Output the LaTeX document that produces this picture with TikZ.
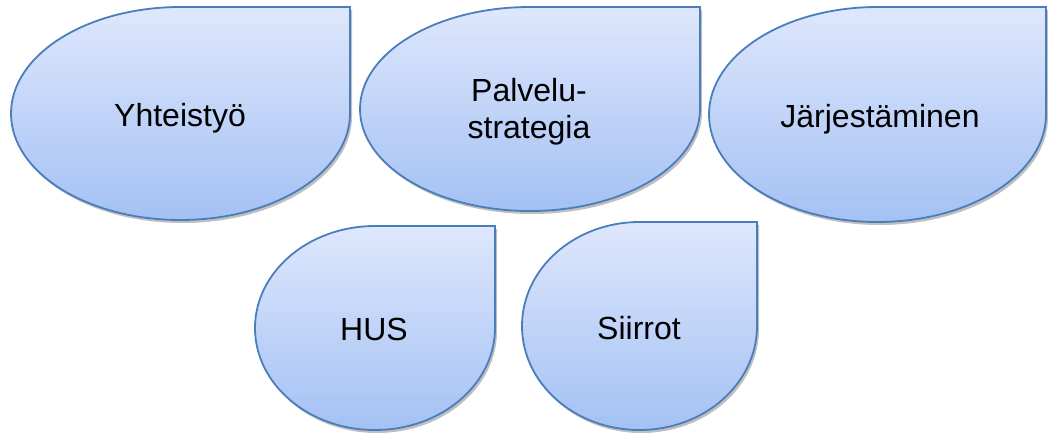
\documentclass[tikz,border=0pt]{standalone}
\usepackage{fontspec}
\setmainfont{Liberation Sans}
\definecolor{dropline}{HTML}{4A7EBB}
\definecolor{droptop}{HTML}{DEE7FC}
\definecolor{dropbot}{HTML}{A4C1F4}
\tikzset{
  dropshape/.style={draw=dropline, line width=1.8pt, top color=droptop, bottom color=dropbot},
  dropshadow/.style={fill=black, opacity=0.25, xshift=2pt, yshift=-3pt},
  droptext/.style={font=\fontsize{32}{37}\selectfont, text=black, inner sep=0pt, align=center}
}
% teardrop with sharp top-right corner: left, right, top, bottom (pixel coords, y down)
\newcommand{\teardrop}[4]{%
  \pgfmathsetmacro{\tdcx}{(#1+#2)/2}%
  \pgfmathsetmacro{\tdcy}{(#3+#4)/2}%
  \pgfmathsetmacro{\tdkx}{0.5523*(#2-#1)/2}%
  \pgfmathsetmacro{\tdky}{0.5523*(#4-#3)/2}%
  \pgfmathsetmacro{\tdxa}{\tdcx-\tdkx}%
  \pgfmathsetmacro{\tdxb}{\tdcx+\tdkx}%
  \pgfmathsetmacro{\tdya}{\tdcy-\tdky}%
  \pgfmathsetmacro{\tdyb}{\tdcy+\tdky}%
  \def\tdpath{(#2,#3) -- (\tdcx,#3) .. controls (\tdxa,#3) and (#1,\tdya) .. (#1,\tdcy)
    .. controls (#1,\tdyb) and (\tdxa,#4) .. (\tdcx,#4)
    .. controls (\tdxb,#4) and (#2,\tdyb) .. (#2,\tdcy) -- cycle}%
  \fill[dropshadow] \tdpath;
  \path[dropshape] \tdpath;
}
\begin{document}
\begin{tikzpicture}[x=1pt,y=-1pt]
\useasboundingbox (0,0) rectangle (1048,432);
\teardrop{11}{350}{7}{220}
\teardrop{360}{700}{7}{211}
\teardrop{709}{1046}{7}{222}
\teardrop{255}{495}{226}{430}
\teardrop{522}{757}{222}{430}
\node[droptext, anchor=base] (yht) at (180,126) {Yhteistyö};
\node[droptext] (pal) at (529,112) {Palvelu-\\strategia};
\node[droptext, anchor=base] (jar) at (880,127) {Järjestäminen};
\node[droptext, anchor=base] (hus) at (374,340) {HUS};
\node[droptext, anchor=base] (sii) at (639,339) {Siirrot};
\end{tikzpicture}
\end{document}
